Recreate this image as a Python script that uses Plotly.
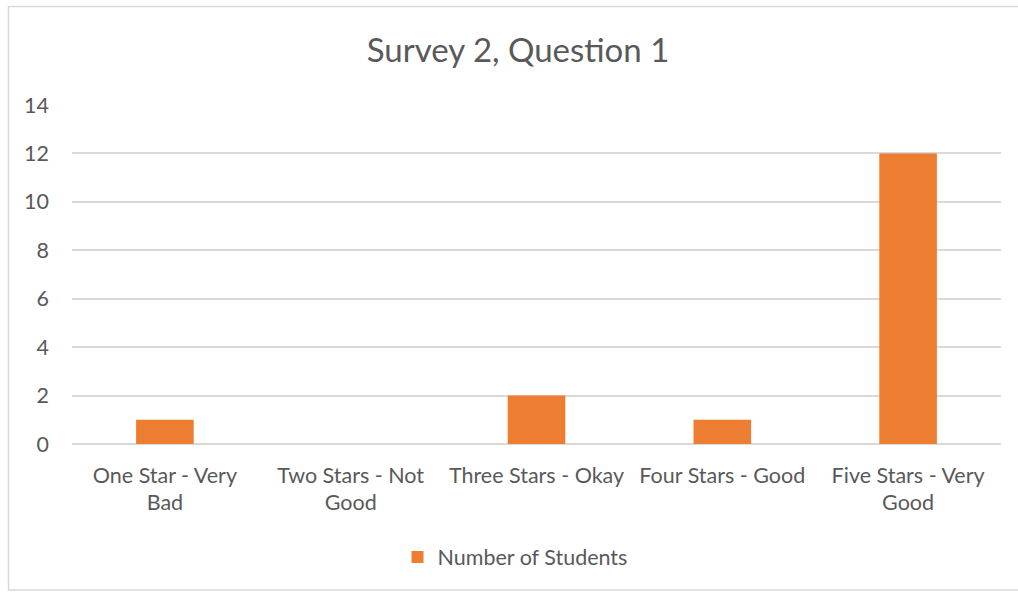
import plotly.graph_objects as go

# Survey results
categories = [
    "One Star - Very<br>Bad",
    "Two Stars - Not<br>Good",
    "Three Stars - Okay",
    "Four Stars - Good",
    "Five Stars - Very<br>Good",
]
num_students = [1, 0, 2, 1, 12]
y_ticks = [0, 2, 4, 6, 8, 10, 12, 14]

W, H = 1018, 592
L, R, T, B = 72, 17, 105, 148
pw, ph = W - L - R, H - T - B

def px_x(px):
    return (px - L) / pw

def px_y(py):
    return (H - B - py) / ph

FONT = "Lato"
GREY = "#595959"
FS = 21.5

fig = go.Figure(
    go.Bar(
        x=categories,
        y=num_students,
        name="Number of Students",
        marker=dict(color="#ED7D31", line=dict(width=0)),
        width=0.31,
        showlegend=True,
    )
)

fig.update_layout(
    width=W,
    height=H,
    margin=dict(l=L, r=R, t=T, b=B),
    paper_bgcolor="white",
    plot_bgcolor="white",
    font=dict(family=FONT, color=GREY, size=FS),
    title=dict(
        text="Survey 2, Question 1",
        font=dict(family=FONT, size=33, color=GREY),
        x=px_x(518), xref="paper", xanchor="center",
        y=1 - 50 / H, yref="container", yanchor="middle",
    ),
    showlegend=True,
    legend=dict(
        orientation="h",
        x=px_x(515), xanchor="center",
        y=px_y(557), yanchor="middle",
        font=dict(family=FONT, size=FS, color=GREY),
        itemwidth=30,
    ),
    xaxis=dict(
        showgrid=False,
        showline=False,
        ticks="",
        ticklabelstandoff=16,
        tickfont=dict(family=FONT, size=FS, color=GREY),
    ),
    yaxis=dict(
        range=[0, 14],
        tickvals=y_ticks,
        showgrid=True,
        gridcolor="#d9d9d9",
        gridwidth=1.5,
        zeroline=True,
        zerolinecolor="#d9d9d9",
        zerolinewidth=1.5,
        showline=False,
        ticks="",
        ticklabelstandoff=22,
        tickfont=dict(family=FONT, size=FS, color=GREY),
    ),
    bargap=0.69,
)

# chart-area border
fig.add_shape(
    type="rect",
    xref="paper", yref="paper",
    x0=px_x(8.5), x1=px_x(1030),
    y0=px_y(590), y1=px_y(6.5),
    line=dict(color="#d9d9d9", width=1.5),
    fillcolor="rgba(0,0,0,0)",
    layer="below",
)

fig.write_html("out.html")
